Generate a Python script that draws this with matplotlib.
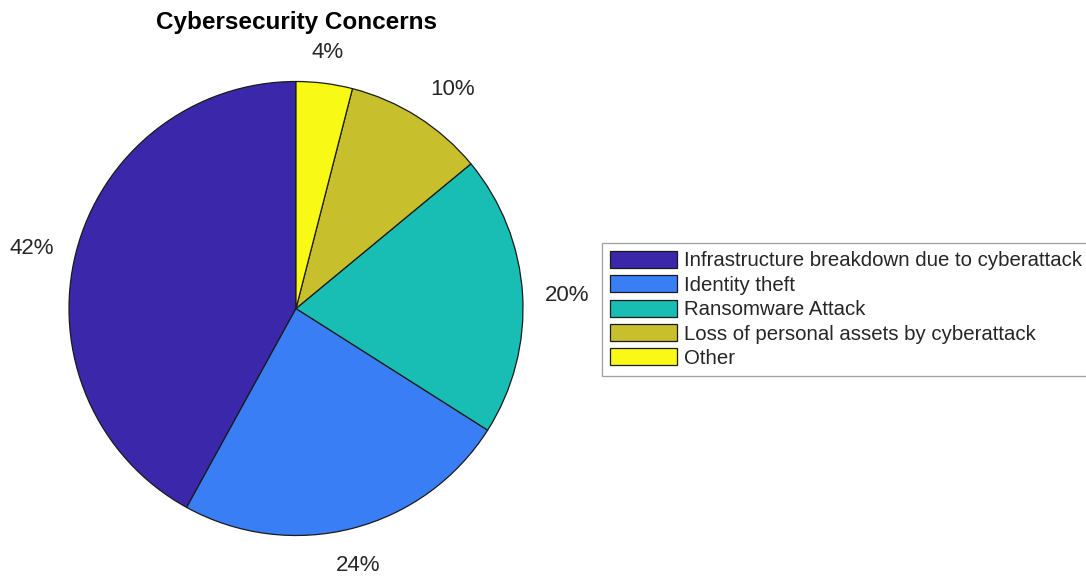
import numpy as np
import matplotlib
matplotlib.use("Agg")
import matplotlib.pyplot as plt

plt.rcParams['font.family'] = ['Liberation Sans', 'DejaVu Sans']

# Data
categories = ["Infrastructure breakdown due to cyberattack", "Identity theft",
              "Ransomware Attack", "Loss of personal assets by cyberattack", "Other"]
values = [42, 24, 20, 10, 4]
labels = ["42%", "24%", "20%", "10%", "4%"]
colors = ["#3b27a9", "#3a7ef5", "#18bdb4", "#c8bf2c", "#f8f915"]

fig = plt.figure(figsize=(10.86, 5.77), dpi=100)
W, H = 1086, 577
cx, cy, r = 296, 308.5, 227
ax = fig.add_axes([(cx - r) / W, (H - cy - r) / H, 2 * r / W, 2 * r / H])

wedges, _ = ax.pie(values, colors=colors, startangle=90, counterclock=True,
                   wedgeprops=dict(edgecolor='#1a1a1a', linewidth=0.9))
ax.set_xlim(-1, 1)
ax.set_ylim(-1, 1)
ax.axis('off')

# percentage labels, MATLAB-like placement
for w, lab in zip(wedges, labels):
    ang = np.deg2rad((w.theta1 + w.theta2) / 2)
    c, s = np.cos(ang), np.sin(ang)
    x, y = 1.1 * c, 1.1 * s
    ha = 'center' if abs(c) < 0.3 else ('left' if c > 0 else 'right')
    va = 'center' if abs(s) < 0.3 else ('bottom' if s > 0 else 'top')
    if va == 'top':
        y -= 0.02
    elif va == 'bottom':
        y -= 0.012
    else:
        y -= 0.01
    ax.text(x, y, lab, ha=ha, va=va, fontsize=16, color='#262626', clip_on=False)

fig.text(cx / W, 1 - 23 / H, "Cybersecurity Concerns", ha='center', va='center',
         fontsize=17.5, fontweight='bold', color='black')

leg = fig.legend(wedges, categories, loc='upper left',
                 bbox_to_anchor=(602 / W, 1 - 243 / H), borderaxespad=0,
                 fontsize=14.7, frameon=True, fancybox=False,
                 handlelength=3.3, handleheight=0.9, handletextpad=0.35,
                 labelspacing=0.24, borderpad=0.38)
leg.get_frame().set_edgecolor('#888888')
leg.get_frame().set_linewidth(0.9)
for t in leg.get_texts():
    t.set_color('#262626')

fig.savefig("out.png", dpi=100)
